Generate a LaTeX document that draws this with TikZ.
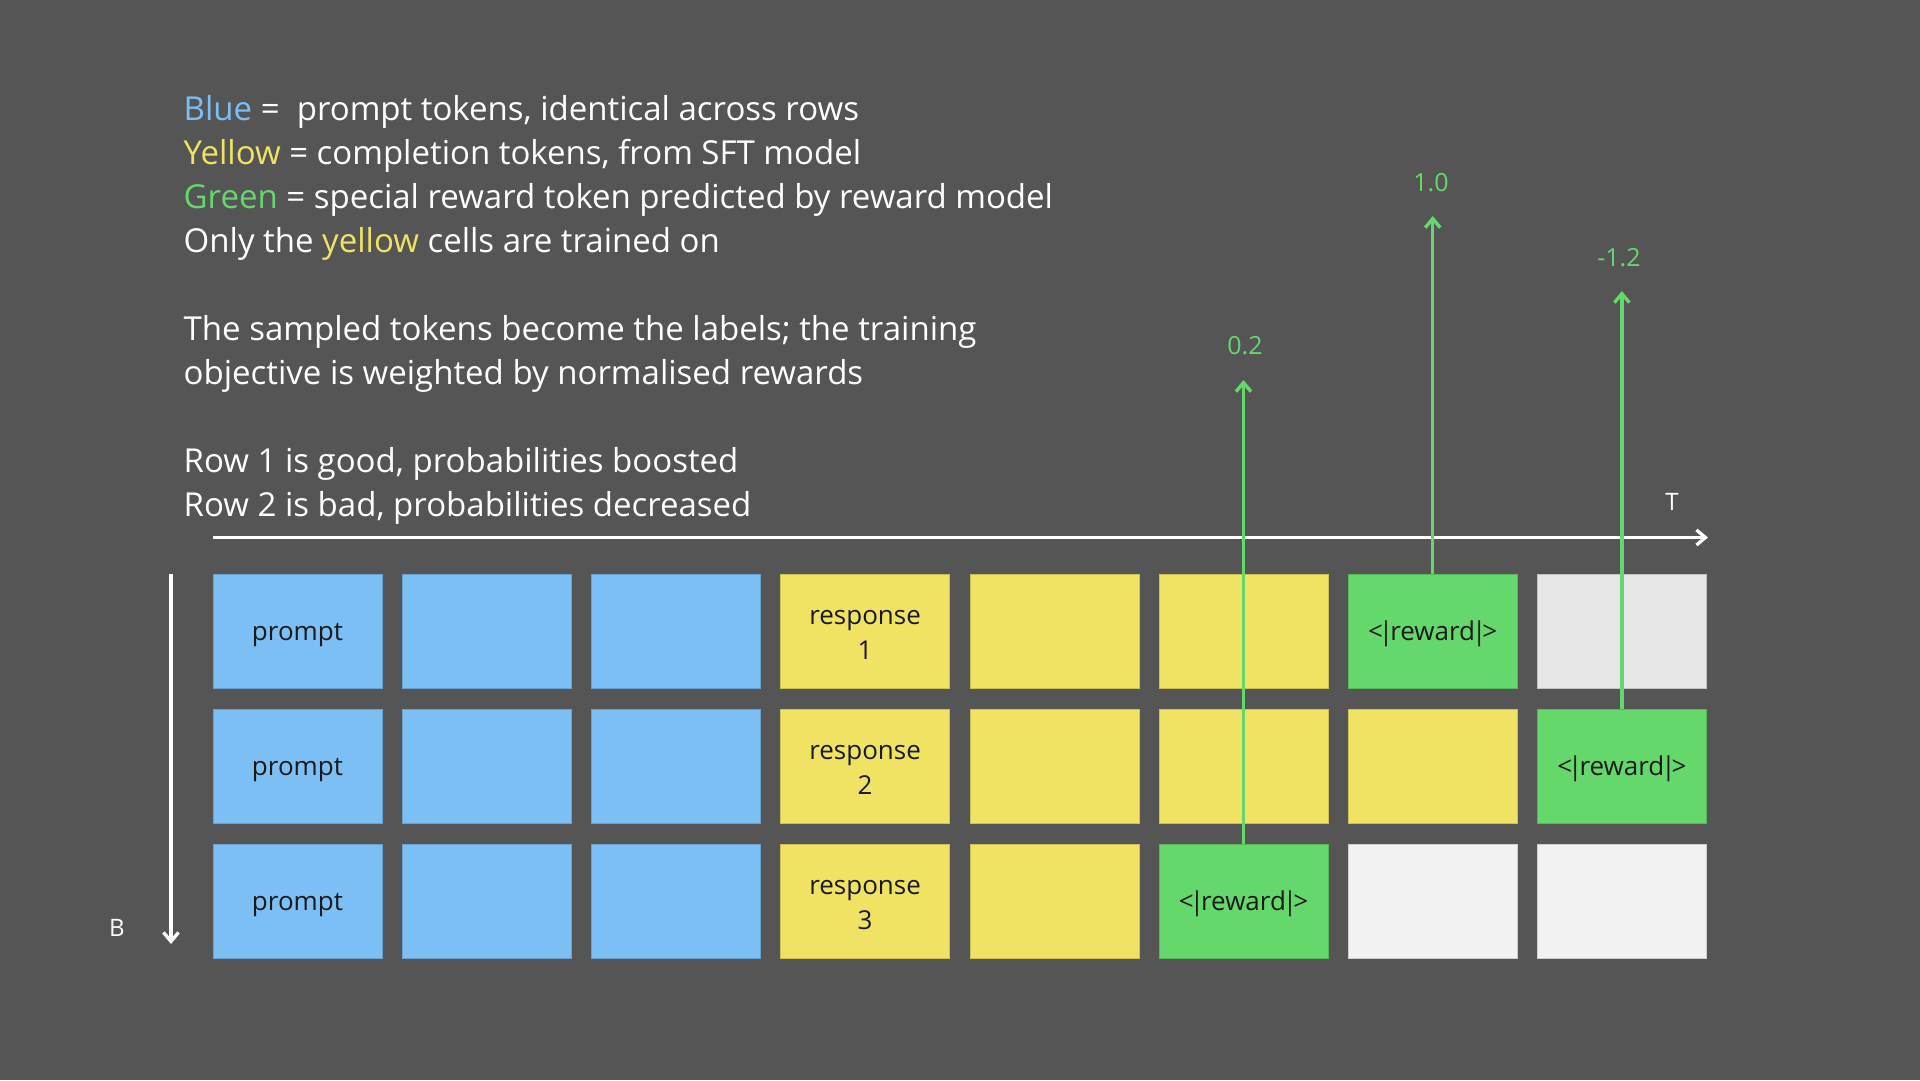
\documentclass[tikz,border=0pt]{standalone}
\usepackage{fontspec}
\setmainfont{Open Sans}
\usetikzlibrary{arrows.meta,calc}
\definecolor{bg}{HTML}{555555}
\definecolor{cblue}{HTML}{7BBFF5}
\definecolor{cyellow}{HTML}{F0E364}
\definecolor{cgreen}{HTML}{64D86B}
\definecolor{clgray}{HTML}{E6E6E6}
\definecolor{cwhite}{HTML}{F2F2F2}
\newcommand{\rewtok}{<\kern-4pt|\kern-3pt reward\kern-3pt|\kern-4pt>}
\tikzset{
  cell/.style={minimum width=169pt, minimum height=114pt, inner sep=0pt, outer sep=0pt,
    draw=#1!85!black, line width=0.6pt, fill=#1},
  celltext/.style={align=center, inner sep=0pt, text=black!90, font=\fontsize{26}{34.5}\selectfont},
  infotext/.style={anchor=base west, inner sep=0pt, text=white, font=\fontsize{33}{44}\selectfont},
  axis/.style={draw=white, line width=3.3pt, -{Straight Barb[length=9pt,width=15pt,line width=3.3pt]}},
  rewarrow/.style={draw=cgreen, line width=3.4pt, -{Straight Barb[length=9pt,width=15pt,line width=3.4pt]}},
  rewlabel/.style={text=cgreen, inner sep=0pt, font=\fontsize{25}{30}\selectfont},
  axlabel/.style={text=white, inner sep=0pt, font=\fontsize{24}{28}\selectfont},
}
\begin{document}
\begin{tikzpicture}[x=1pt,y=-1pt]
\fill[bg] (0,0) rectangle (1920,1080);
\useasboundingbox (0,0) rectangle (1920,1080);

% explanatory text
\node[infotext] (t1) at (183.5,120.8) {\textcolor{cblue}{Blue} = \ prompt tokens, identical across rows};
\node[infotext] (t2) at (183.5,164.8) {\textcolor{cyellow}{Yellow} = completion tokens, from SFT model};
\node[infotext] (t3) at (183.5,208.8) {\textcolor{cgreen}{Green} = special reward token predicted by reward model};
\node[infotext] (t4) at (183.5,252.8) {Only the \textcolor{cyellow}{yellow} cells are trained on};
\node[infotext] (t5) at (183.5,340.8) {The sampled tokens become the labels; the training};
\node[infotext] (t6) at (183.5,384.8) {objective is weighted by normalised rewards};
\node[infotext] (t7) at (183.5,472.8) {Row 1 is good, probabilities boosted};
\node[infotext] (t8) at (183.5,516.8) {Row 2 is bad, probabilities decreased};

% axes
\coordinate (tstart) at (213,537.5);
\coordinate (tend) at (1708,537.5);
\draw[axis] (tstart) -- (tend);
\node[axlabel] (tlab) at (1672,502) {T};
\coordinate (bstart) at (171,574);
\coordinate (bend) at (171,944);
\draw[axis] (bstart) -- (bend);
\node[axlabel] (blab) at (117,928) {B};

% cells
\def\cx#1{213+84.5+189.2*#1}
% row 1
\node[cell=cblue]   (r1c1) at ({\cx{0}},631) {};
\node[cell=cblue]   (r1c2) at ({\cx{1}},631) {};
\node[cell=cblue]   (r1c3) at ({\cx{2}},631) {};
\node[cell=cyellow] (r1c4) at ({\cx{3}},631) {};
\node[cell=cyellow] (r1c5) at ({\cx{4}},631) {};
\node[cell=cyellow] (r1c6) at ({\cx{5}},631) {};
\node[cell=cgreen]  (r1c7) at ({\cx{6}},631) {};
\node[cell=clgray]  (r1c8) at ({\cx{7}},631) {};
% row 2
\node[cell=cblue]   (r2c1) at ({\cx{0}},766) {};
\node[cell=cblue]   (r2c2) at ({\cx{1}},766) {};
\node[cell=cblue]   (r2c3) at ({\cx{2}},766) {};
\node[cell=cyellow] (r2c4) at ({\cx{3}},766) {};
\node[cell=cyellow] (r2c5) at ({\cx{4}},766) {};
\node[cell=cyellow] (r2c6) at ({\cx{5}},766) {};
\node[cell=cyellow] (r2c7) at ({\cx{6}},766) {};
\node[cell=cgreen]  (r2c8) at ({\cx{7}},766) {};
% row 3
\node[cell=cblue]   (r3c1) at ({\cx{0}},901) {};
\node[cell=cblue]   (r3c2) at ({\cx{1}},901) {};
\node[cell=cblue]   (r3c3) at ({\cx{2}},901) {};
\node[cell=cyellow] (r3c4) at ({\cx{3}},901) {};
\node[cell=cyellow] (r3c5) at ({\cx{4}},901) {};
\node[cell=cgreen]  (r3c6) at ({\cx{5}},901) {};
\node[cell=cwhite]  (r3c7) at ({\cx{6}},901) {};
\node[cell=cwhite]  (r3c8) at ({\cx{7}},901) {};

% cell texts
\node[celltext] (x11) at ($(r1c1.center)+(0,4)$) {prompt};
\node[celltext] (x21) at ($(r2c1.center)+(0,4)$) {prompt};
\node[celltext] (x31) at ($(r3c1.center)+(0,4)$) {prompt};
\node[celltext] (x14) at ($(r1c4.center)+(0,4)$) {response\\1};
\node[celltext] (x24) at ($(r2c4.center)+(0,4)$) {response\\2};
\node[celltext] (x34) at ($(r3c4.center)+(0,4)$) {response\\3};
\node[celltext] (x17) at ($(r1c7.center)+(0,3)$) {\rewtok};
\node[celltext] (x28) at ($(r2c8.center)+(0,3)$) {\rewtok};
\node[celltext] (x36) at ($(r3c6.center)+(0,3)$) {\rewtok};

% reward arrows
\coordinate (lvA) at (0,380);
\coordinate (lvB) at (0,216);
\coordinate (lvC) at (0,291);
\coordinate (tipA) at (r3c6.north |- lvA);
\coordinate (tipB) at (r1c7.north |- lvB);
\coordinate (tipC) at (r2c8.north |- lvC);
\draw[rewarrow] (r3c6.north) -- (tipA);
\draw[rewarrow] (r1c7.north) -- (tipB);
\draw[rewarrow] (r2c8.north) -- (tipC);
\node[rewlabel] (labA) at (1245,346) {0.2};
\node[rewlabel] (labB) at (1431,183) {1.0};
\node[rewlabel] (labC) at (1619,258) {-1.2};
\end{tikzpicture}
\end{document}
